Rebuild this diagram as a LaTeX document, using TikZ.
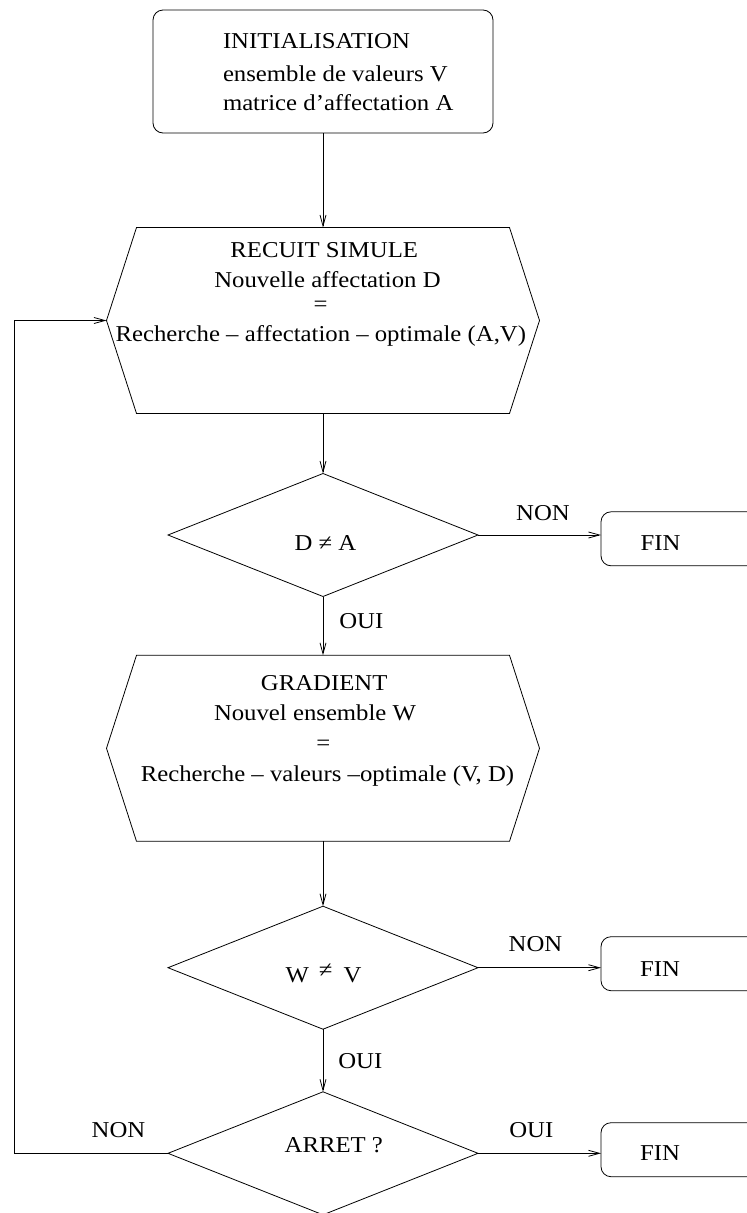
\documentclass[tikz,border=0pt]{standalone}
\usepackage{fontspec}
\setmainfont{Liberation Serif}[FakeStretch=1.09]
\usetikzlibrary{arrows.meta,shapes.geometric,calc}
\begin{document}
\begin{tikzpicture}[x=1pt,y=-1pt,
  every node/.style={inner sep=0pt, outer sep=0pt},
  lbl/.style={font=\fontsize{22.7}{28}\selectfont, anchor=base},
  lblw/.style={lbl, anchor=base west},
  frame/.style={draw, line width=0.8pt},
  roundbox/.style={frame, rectangle, rounded corners=10pt},
  hexarea/.style={rectangle, minimum width=433pt, minimum height=186pt},
  decision/.style={frame, diamond, minimum width=310pt, minimum height=123pt},
  finbox/.style={roundbox, minimum width=170pt, minimum height=54pt},
  flow/.style={line width=0.8pt, -{Straight Barb[length=11pt,width=6pt,line width=0.8pt]}}
]
\clip (0,0) rectangle (747,1213);

% initialisation box
\node[roundbox, minimum width=340pt, minimum height=123pt] (init) at (323,71.5) {};
\node[lblw] (initA) at (223,48.3) {INITIALISATION};
\node[lblw] (initB) at (223,81) {ensemble de valeurs V};
\node[lblw] (initC) at (223,110) {matrice d’affectation A};

% simulated annealing block
\node[hexarea] (recuit) at (323,320.5) {};
\draw[frame] ($(recuit.north west)+(30,0)$) -- ($(recuit.north east)+(-30,0)$)
  -- (recuit.east) -- ($(recuit.south east)+(-30,0)$)
  -- ($(recuit.south west)+(30,0)$) -- (recuit.west) -- cycle;
\node[lbl] (recA) at (324.2,257.7) {RECUIT SIMULE};
\node[lbl] (recB) at (327.5,287.7) {Nouvelle affectation D};
\node[lbl] (recC) at (320.7,311.2) {=};
\node[lbl] (recD) at (320.8,341.7) {Recherche – affectation – optimale (A,V)};

% first test
\node[decision] (d1) at (323,535) {};
\node[lbl] (d1t) at (325.5,550) {D ≠ A};
\node[finbox] (fin1) at (686,538.8) {};
\node[lblw] (fin1t) at (640.7,550) {FIN};
\node[lbl] (non1) at (543,520) {NON};
\node[lblw] (oui1) at (339.3,628.3) {OUI};

% gradient block
\node[hexarea] (grad) at (323,748.3) {};
\draw[frame] ($(grad.north west)+(30,0)$) -- ($(grad.north east)+(-30,0)$)
  -- (grad.east) -- ($(grad.south east)+(-30,0)$)
  -- ($(grad.south west)+(30,0)$) -- (grad.west) -- cycle;
\node[lbl] (grA) at (324.2,690) {GRADIENT};
\node[lbl] (grB) at (315,720) {Nouvel ensemble W};
\node[lbl] (grC) at (323.3,750.2) {=};
\node[lbl] (grD) at (327.5,781.7) {Recherche – valeurs –optimale (V, D)};

% second test
\node[decision] (d2) at (323,967.7) {};
\node[lbl] (d2t) at (323.5,982.7) {W\hspace{10pt}\raisebox{5pt}{≠}\hspace{11pt}V};
\node[finbox] (fin2) at (686,963.7) {};
\node[lblw] (fin2t) at (640,976) {FIN};
\node[lbl] (non2) at (535.5,951.7) {NON};
\node[lblw] (oui2) at (338.3,1068.3) {OUI};

% stop test
\node[decision] (d3) at (323,1153.3) {};
\node[lbl] (d3t) at (333.8,1152.7) {ARRET ?};
\node[finbox] (fin3) at (686,1149.7) {};
\node[lblw] (fin3t) at (640,1160.7) {FIN};
\node[lblw] (oui3) at (509.3,1137.7) {OUI};
\node[lblw] (non3) at (91.7,1137.3) {NON};

% connectors
\draw[flow] (init.south) -- (init.south |- recuit.north);
\draw[flow] (recuit.south) -- (d1.north);
\draw[flow] (d1.east) -- (d1.east -| fin1.west);
\draw[flow] (d1.south) -- (grad.north);
\draw[flow] (grad.south) -- (d2.north);
\draw[flow] (d2.east) -- (d2.east -| fin2.west);
\draw[flow] (d2.south) -- (d3.north);
\draw[flow] (d3.east) -- (d3.east -| fin3.west);
\coordinate (loop) at (14,1153.3);
\draw[flow] (d3.west) -- (loop) |- (recuit.west);
\end{tikzpicture}
\end{document}
